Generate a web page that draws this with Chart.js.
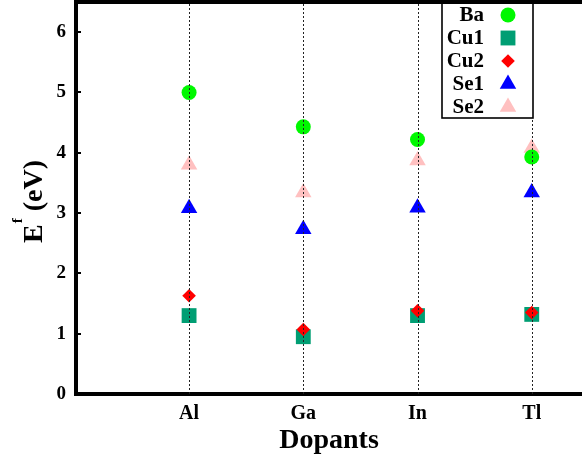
<!DOCTYPE html>
<html>
<head>
<meta charset="utf-8">
<script src="https://cdn.jsdelivr.net/npm/chart.js@4.4.1/dist/chart.umd.min.js"></script>
<style>
  html, body { margin: 0; padding: 0; background: #ffffff; }
  #wrap { width: 582px; height: 459px; }
</style>
</head>
<body>
<div id="wrap"><canvas id="chart" width="582" height="459"></canvas></div>
<script>
// Formation energy of each substitution site for the four dopants
const dopants = ['Al', 'Ga', 'In', 'Tl'];
const siteNames = ['Ba', 'Cu1', 'Cu2', 'Se1', 'Se2'];
const ba  = [5.00, 4.43, 4.22, 3.93];
const cu1 = [1.30, 0.95, 1.30, 1.32];
const cu2 = [1.63, 1.07, 1.38, 1.35];
const se1 = [3.08, 2.73, 3.09, 3.34];
const se2 = [3.80, 3.34, 3.87, 4.08];
const yTicks = [0, 1, 2, 3, 4, 5, 6];

const siteValues = [ba, cu1, cu2, se1, se2];
const siteColors = ['#00f800', '#009e73', '#ff0000', '#0000ff', '#ffc0c0'];
const siteShapes = ['circle', 'rect', 'rectRot', 'triangle', 'triangle'];
const siteRadius = [7.5, 10.5, 6.8, 9.5, 9.5];
// stacking: lower value is painted later (on top)
const siteLayer = [0, 2, 1, 3, 4];

const SERIF = '"Liberation Serif", "Times New Roman", serif';

function drawMarker(ctx, shape, r, x, y, color) {
  ctx.save();
  ctx.fillStyle = color;
  ctx.beginPath();
  if (shape === 'circle') {
    ctx.arc(x, y, r, 0, Math.PI * 2);
  } else if (shape === 'rect') {
    const s = r * Math.SQRT1_2;
    ctx.rect(x - s, y - s, 2 * s, 2 * s);
  } else if (shape === 'rectRot') {
    ctx.moveTo(x - r, y); ctx.lineTo(x, y - r); ctx.lineTo(x + r, y); ctx.lineTo(x, y + r);
    ctx.closePath();
  } else {
    const h = Math.sqrt(3) / 2 * r;
    ctx.moveTo(x, y - r); ctx.lineTo(x + h, y + r / 2); ctx.lineTo(x - h, y + r / 2);
    ctx.closePath();
  }
  ctx.fill();
  ctx.restore();
}

function noEdgePadding(s) {
  s.paddingTop = 0; s.paddingBottom = 0; s.paddingLeft = 0; s.paddingRight = 0;
}

const framePlugin = {
  id: 'frame',
  afterDatasetsDraw(chart) {
    const { ctx, chartArea, scales } = chart;
    // dotted guide lines at each dopant
    ctx.save();
    ctx.strokeStyle = '#222222';
    ctx.lineWidth = 1;
    ctx.setLineDash([2, 2]);
    dopants.forEach((_, i) => {
      const px = Math.round(scales.x.getPixelForValue(i)) + 0.5;
      ctx.beginPath();
      ctx.moveTo(px, chartArea.bottom);
      ctx.lineTo(px, chartArea.top);
      ctx.stroke();
    });
    ctx.restore();
  },
  afterDraw(chart) {
    const { ctx, chartArea, scales } = chart;
    ctx.save();
    // inward tick marks on the value axis
    ctx.strokeStyle = '#000';
    ctx.lineWidth = 2;
    yTicks.forEach(v => {
      const py = Math.round(scales.y.getPixelForValue(v));
      ctx.beginPath();
      ctx.moveTo(chartArea.left, py);
      ctx.lineTo(chartArea.left + 5, py);
      ctx.stroke();
    });

    // value axis title: E^f (eV)
    ctx.translate(42, 243);
    ctx.rotate(-Math.PI / 2);
    ctx.fillStyle = '#000';
    ctx.textBaseline = 'alphabetic';
    ctx.textAlign = 'left';
    ctx.font = 'bold 28px ' + SERIF;
    ctx.fillText('E', 0, 0);
    let cx = ctx.measureText('E').width + 1;
    ctx.font = 'bold 15px ' + SERIF;
    ctx.fillText('f', cx, -20);
    cx += ctx.measureText('f').width;
    ctx.font = 'bold 28px ' + SERIF;
    ctx.fillText(' (eV)', cx, 0);
    ctx.restore();

    // legend box in the upper right of the plot
    ctx.save();
    const boxL = 442, boxR = 533, boxB = 118;
    ctx.fillStyle = '#fff';
    ctx.fillRect(boxL, chartArea.top, boxR - boxL, boxB - chartArea.top);
    ctx.strokeStyle = '#000';
    ctx.lineWidth = 1.6;
    ctx.strokeRect(boxL, chartArea.top - 4, boxR - boxL, boxB - chartArea.top + 4);
    ctx.font = 'bold 21px ' + SERIF;
    ctx.textAlign = 'right';
    ctx.textBaseline = 'middle';
    siteNames.forEach((name, k) => {
      const ry = 15 + k * 23;
      ctx.fillStyle = '#000';
      ctx.fillText(name, 484, ry + 1);
      drawMarker(ctx, siteShapes[k], siteRadius[k], 508, ry, siteColors[k]);
    });
    // top frame line
    ctx.strokeStyle = '#000';
    ctx.lineWidth = 4;
    ctx.beginPath();
    ctx.moveTo(chartArea.left - 2, chartArea.top);
    ctx.lineTo(chartArea.right, chartArea.top);
    ctx.stroke();
    ctx.restore();
  }
};

const datasets = siteNames.map((name, k) => ({
  label: name,
  data: siteValues[k].map((v, i) => ({ x: i, y: v })),
  pointStyle: siteShapes[k],
  pointRadius: siteRadius[k],
  pointHoverRadius: siteRadius[k],
  pointBackgroundColor: siteColors[k],
  pointBorderColor: siteColors[k],
  pointBorderWidth: 0,
  showLine: false,
  order: siteLayer[k]
}));

new Chart(document.getElementById('chart'), {
  type: 'scatter',
  data: { datasets },
  plugins: [framePlugin],
  options: {
    responsive: false,
    animation: false,
    events: [],
    layout: { autoPadding: false, padding: { left: 0, right: 0, top: 2, bottom: 0 } },
    plugins: { legend: { display: false }, tooltip: { enabled: false } },
    scales: {
      x: {
        type: 'linear',
        min: -0.99,
        max: 3.44,
        afterBuildTicks: s => { s.ticks = dopants.map((_, i) => ({ value: i })); },
        afterFit: s => { s.height = 65; noEdgePadding(s); },
        ticks: {
          callback: v => dopants[v] ?? '',
          color: '#000',
          font: { family: SERIF, size: 20, weight: 'bold' },
          padding: 8,
          maxRotation: 0,
          autoSkip: false
        },
        grid: { display: true, drawOnChartArea: false, drawTicks: false, color: 'rgba(0,0,0,0)' },
        border: { display: true, color: '#000', width: 4 },
        title: {
          display: true,
          text: 'Dopants',
          color: '#000',
          font: { family: SERIF, size: 28, weight: 'bold' },
          padding: { top: 0, bottom: 1 }
        }
      },
      y: {
        type: 'linear',
        min: 0,
        max: 6.5,
        afterBuildTicks: s => { s.ticks = yTicks.map(v => ({ value: v })); },
        afterFit: s => { s.width = 76; noEdgePadding(s); },
        ticks: {
          color: '#000',
          font: { family: SERIF, size: 19, weight: 'bold' },
          padding: 10
        },
        grid: { display: true, drawOnChartArea: false, drawTicks: false, color: 'rgba(0,0,0,0)' },
        border: { display: true, color: '#000', width: 4 }
      }
    }
  }
});
</script>
</body>
</html>
